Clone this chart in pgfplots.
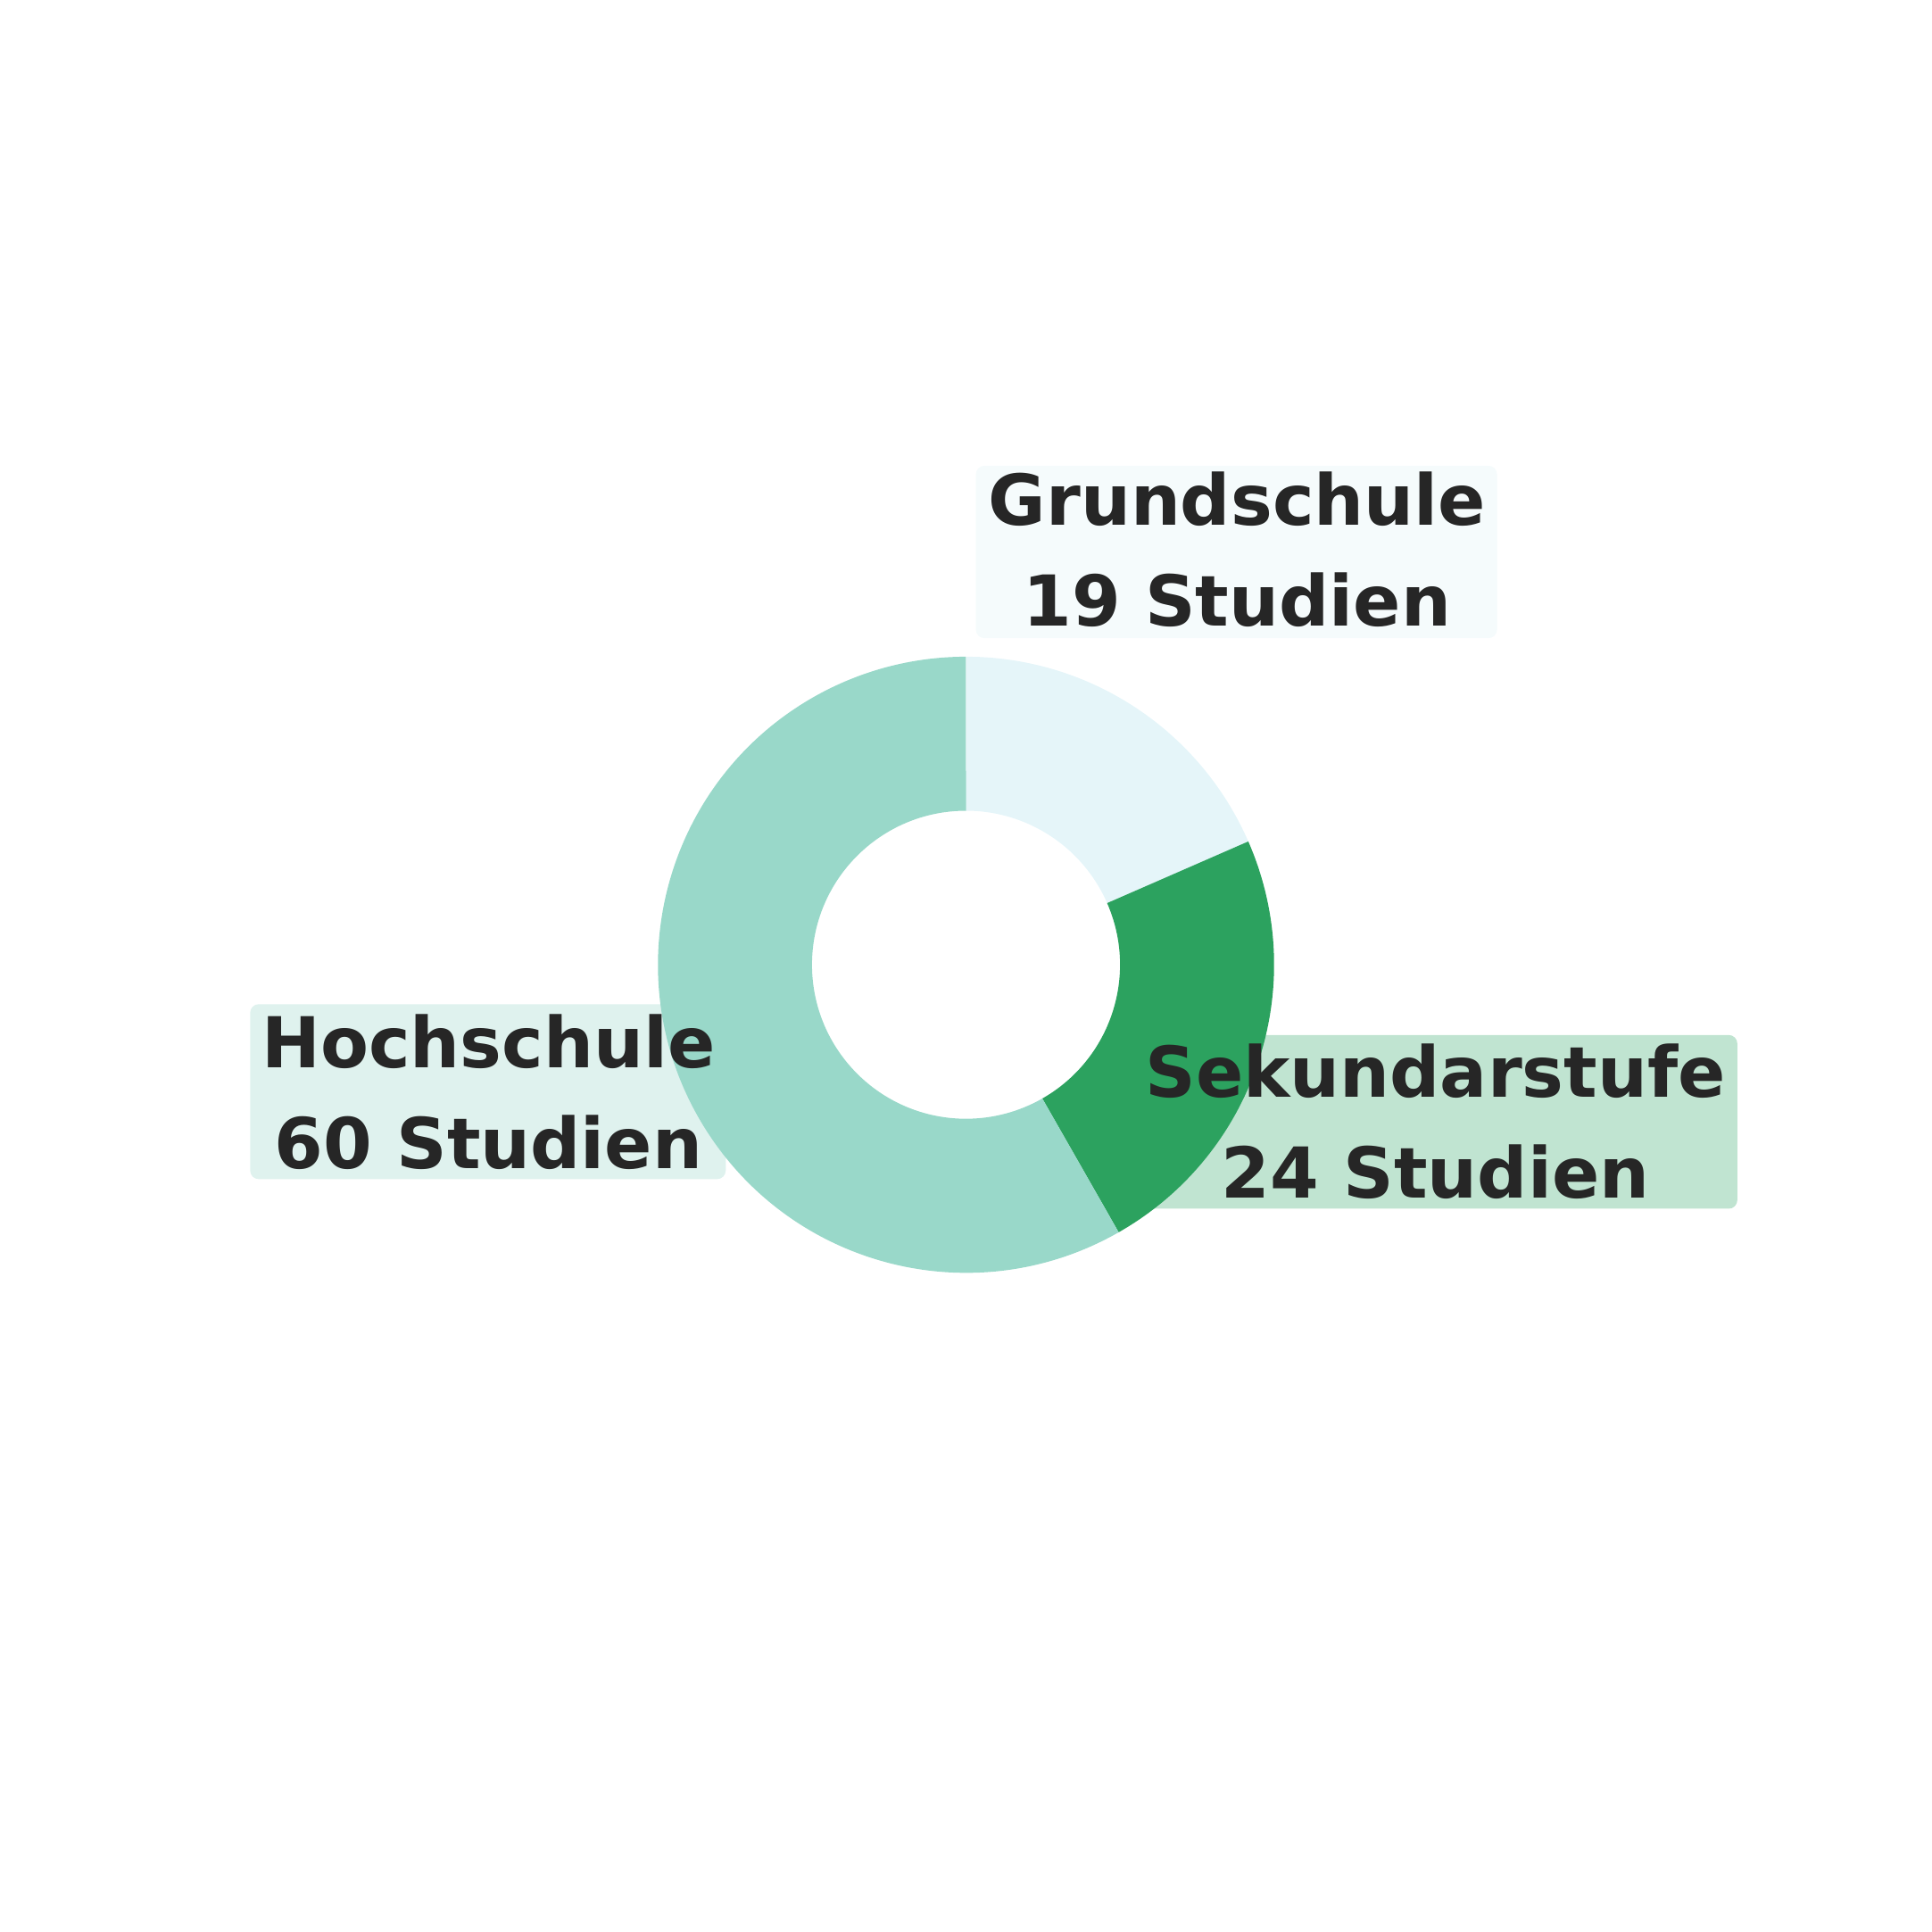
\documentclass[border=0pt]{standalone}
\usepackage{fontspec}
\setmainfont{DejaVu Sans}
\usepackage{pgfplots}
\usepackage{pgfplotstable}
\pgfplotsset{compat=1.18}

\definecolor{grund}{HTML}{E5F5F9}
\definecolor{sek}{HTML}{2CA25F}
\definecolor{hoch}{HTML}{99D8C9}
\definecolor{grundbox}{HTML}{F5FBFC}
\definecolor{sekbox}{HTML}{C0E4D1}
\definecolor{hochbox}{HTML}{DFF2EE}
\definecolor{txt}{HTML}{262626}

\pgfplotstableread{
label value
Grundschule 19
Sekundarstufe 24
Hochschule 60
}\studien

% donut centre and radii (axis units = cm)
\def\cx{7.84}
\def\cy{7.85}
\def\ro{2.5cm}
\def\ri{1.25cm}

\newcommand\donutpart[3]{%
  \fill[#1] ([shift={(#2:\ro)}]axis cs:\cx,\cy) arc[start angle=#2,end angle=#3,radius=\ro]
    -- ([shift={(#3:\ri)}]axis cs:\cx,\cy) arc[start angle=#3,end angle=#2,radius=\ri] -- cycle;}

\begin{document}
\begin{tikzpicture}
\pgfplotstablegetelem{0}{value}\of\studien \let\vg\pgfplotsretval
\pgfplotstablegetelem{1}{value}\of\studien \let\vs\pgfplotsretval
\pgfplotstablegetelem{2}{value}\of\studien \let\vh\pgfplotsretval
\pgfmathsetmacro\total{\vg+\vs+\vh}
\pgfmathsetmacro\aA{90}
\pgfmathsetmacro\aB{\aA-(\vg/\total)*360}
\pgfmathsetmacro\aC{\aB-(\vs/\total)*360}
\pgfmathsetmacro\aD{\aC-(\vh/\total)*360}
\begin{axis}[
  hide axis, x=1cm, y=1cm,
  xmin=0, xmax=15.68, ymin=0, ymax=15.68,
  at={(0,0)}, anchor=south west, clip=false]
  \path (axis cs:0,0) rectangle (axis cs:15.68,15.68);
  % label boxes (behind the ring)
  \node[fill=grundbox, rounded corners=2pt, minimum width=4.23cm, minimum height=1.40cm, inner sep=0] at (axis cs:10.035,11.20) {};
  \node[fill=hochbox, rounded corners=2pt, minimum width=3.86cm, minimum height=1.42cm, inner sep=0] at (axis cs:3.96,6.82) {};
  \node[fill=sekbox, rounded corners=2pt, minimum width=4.90cm, minimum height=1.41cm, inner sep=0] at (axis cs:11.65,6.575) {};
  % ring
  \donutpart{grund}{\aA}{\aB}
  \donutpart{sek}{\aB}{\aC}
  \donutpart{hoch}{\aC}{\aD}
  % label texts
  \tikzset{lbl/.style={align=center, text=txt, inner sep=0,
    font=\fontsize{16.2}{23.3}\selectfont\bfseries}}
  \node[lbl] at (axis cs:10.04,11.22) {Grundschule\\\vg{} Studien};
  \node[lbl] at (axis cs:3.965,6.82) {Hochschule\\\vh{} Studien};
  \node[lbl] at (axis cs:11.65,6.575) {Sekundarstufe\\\vs{} Studien};
\end{axis}
\end{tikzpicture}
\end{document}
